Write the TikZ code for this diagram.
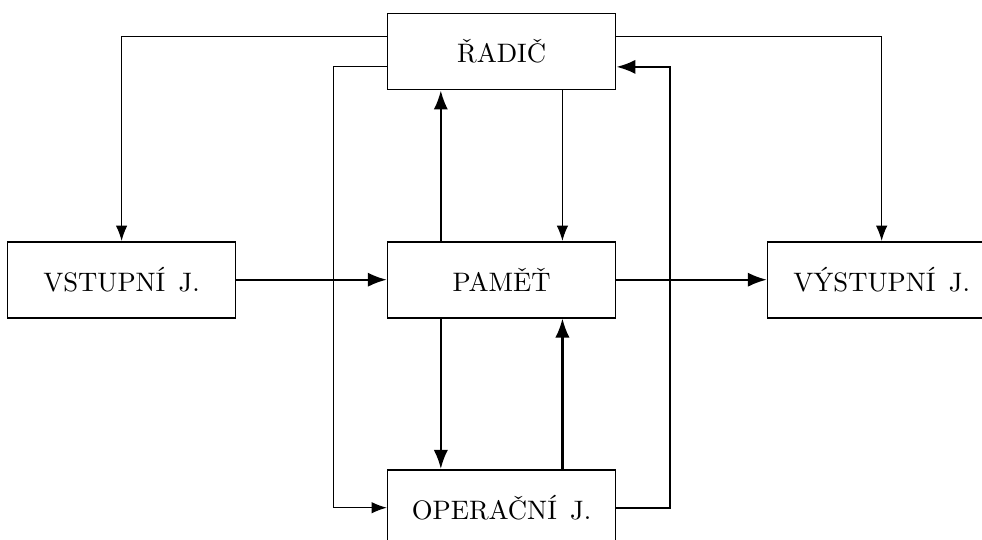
\documentclass[tikz,border=0pt]{standalone}
\usepackage{fontspec}
\usepackage{tikz}
\usetikzlibrary{arrows.meta, positioning}

\begin{document}
\begin{tikzpicture}[
    unit/.style={draw, semithick, minimum width=3cm, minimum height=1cm},
    ctrl/.style={-{Latex[length=2mm]}, thin},
    data/.style={-{Latex[length=2.5mm]}, thick}
  ]
          \useasboundingbox (-6.6,-3.42) rectangle (6.32,3.68);
          \node[unit] (radic) at (0,3) {ŘADIČ};
          \node[unit] (pamet) at (0,0) {PAMĚŤ};
          \node[unit] (oper) at (0,-3) {OPERAČNÍ\enspace J.};
          \node[unit] (vstup) at (-5,0) {VSTUPNÍ\enspace J.};
          \node[unit] (vystup) at (5,0) {VÝSTUPNÍ\enspace J.};
          \draw[ctrl] ([yshift=0.2cm]radic.west) -| (vstup.north);
          \draw[ctrl] ([yshift=-0.2cm]radic.west) -- ++(-0.7,0) |- (oper.west);
          \draw[ctrl] ([yshift=0.2cm]radic.east) -| (vystup.north);
          \draw[ctrl] ([xshift=0.8cm]radic.south) -- ([xshift=0.8cm]pamet.north);
          \draw[data] ([xshift=-0.8cm]pamet.north) -- ([xshift=-0.8cm]radic.south);
          \draw[data] ([xshift=-0.8cm]pamet.south) -- ([xshift=-0.8cm]oper.north);
          \draw[data] ([xshift=0.8cm]oper.north) -- ([xshift=0.8cm]pamet.south);
          \draw[data] (oper.east) -- ++(0.7,0) |- ([yshift=-0.2cm]radic.east);
          \draw[data] (vstup) -- (pamet);
          \draw[data] (pamet) -- (vystup);
        \end{tikzpicture}
\end{document}
